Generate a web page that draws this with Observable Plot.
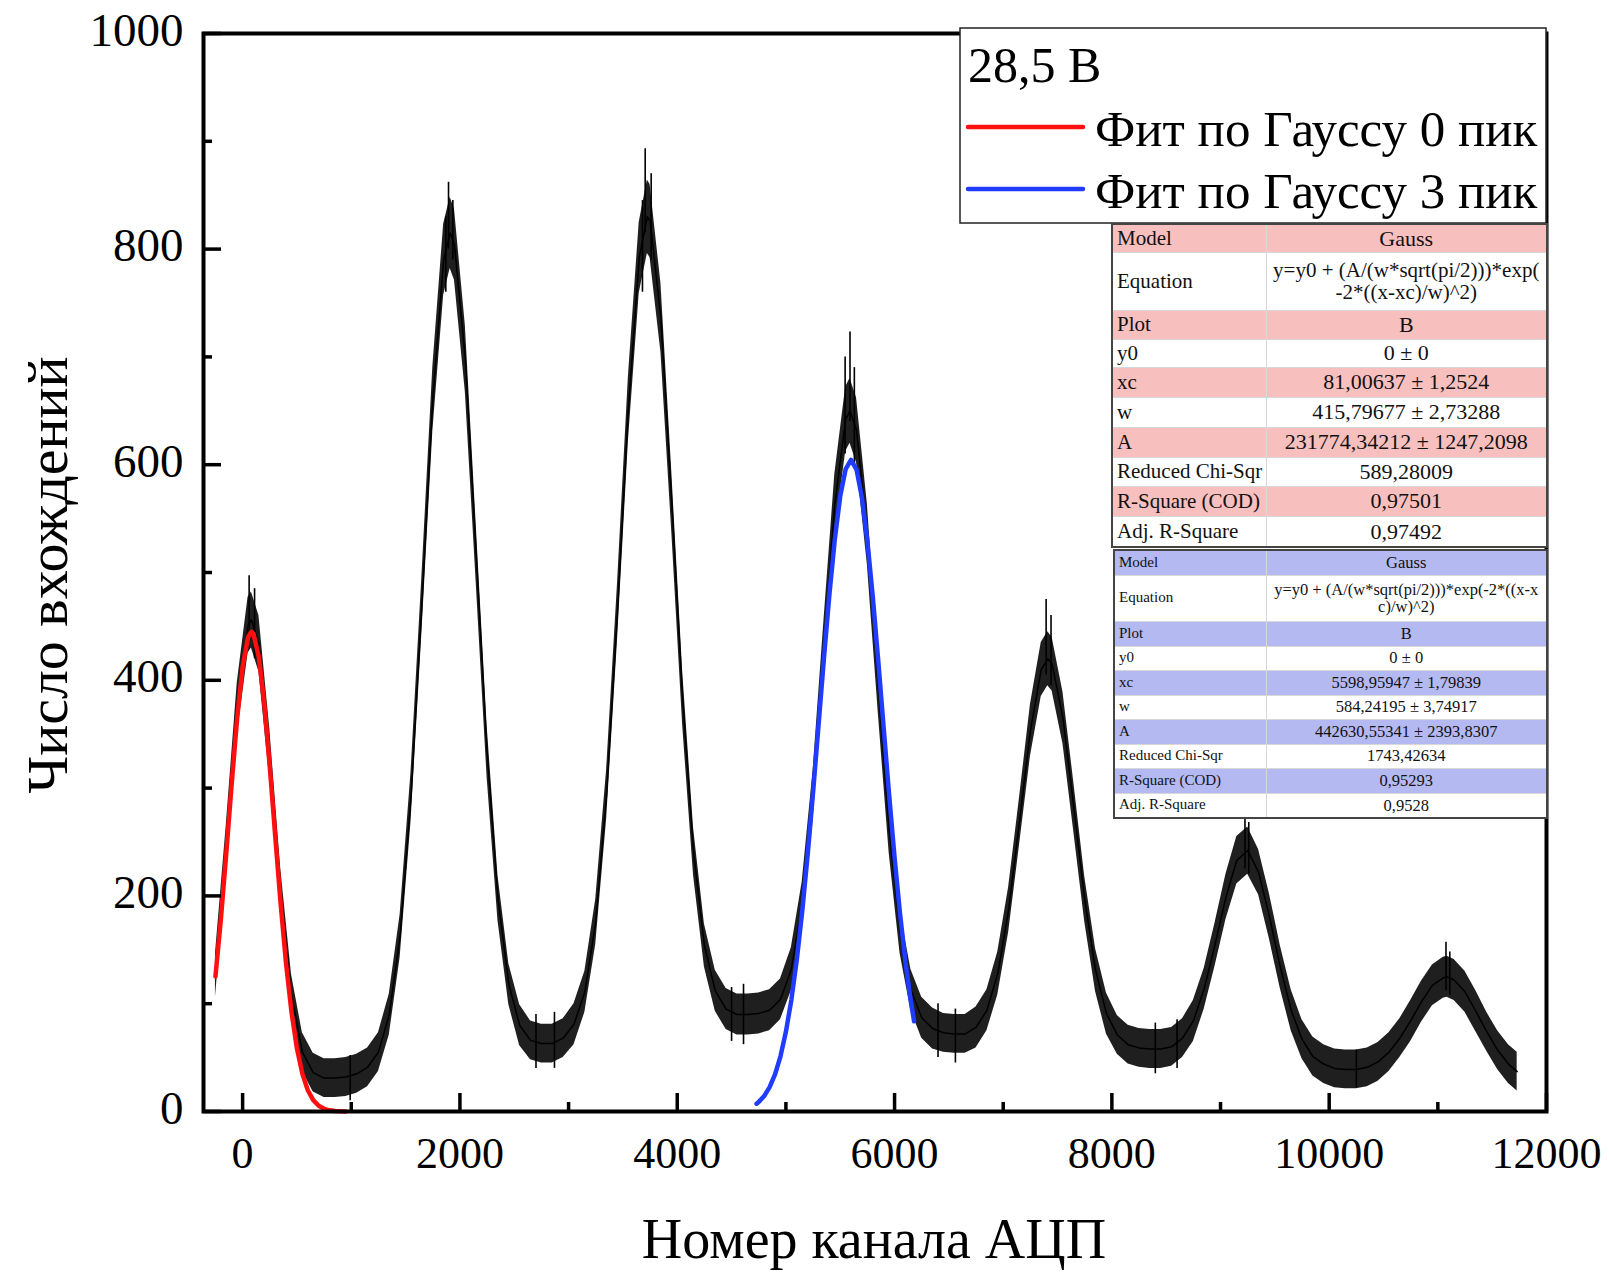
<!DOCTYPE html>
<html>
<head>
<meta charset="utf-8">
<script src="https://cdn.jsdelivr.net/npm/d3@7"></script>
<script src="https://cdn.jsdelivr.net/npm/@observablehq/plot@0.6"></script>
<style>
  html, body { margin: 0; padding: 0; background: #fff; }
  #wrap { position: relative; width: 1609px; height: 1276px; overflow: hidden; font-family: "Liberation Serif", "Times New Roman", serif; }
  #wrap svg { display: block; }
  table.fit { position: absolute; border-collapse: collapse; table-layout: fixed; font-family: "Liberation Serif", "Times New Roman", serif; color: #111; border: 2px solid #444; background: #fff; }
  table.fit td { border: 1px solid #d8d8d8; padding: 0 4px; overflow: hidden; white-space: nowrap; line-height: 1.05; }
  table.fit td.v { text-align: center; padding: 0 2px; }
</style>
</head>
<body>
<div id="wrap"></div>
<script>
// ---------- data ----------
const channels = [-250,-150,-50,50,81,150,250,350,450,550,650,750,850,950,
  1050,1150,1250,1350,1450,1550,1650,1750,1850,1910,1950,2050,2150,2250,2350,2450,2550,2650,2750,2850,
  2950,3050,3150,3250,3350,3450,3550,3650,3725,3750,3850,3950,4050,4150,4250,4350,4450,4550,4650,4750,
  4850,4950,5050,5150,5250,5350,5450,5550,5590,5650,5750,5850,5950,6050,6150,6250,6350,6450,6550,6650,
  6750,6850,6950,7050,7150,7250,7350,7410,7450,7550,7650,7750,7850,7950,8050,8150,8250,8350,8450,
  8550,8650,8750,8850,8950,9050,9150,9250,9350,9450,9550,9650,9750,9850,9950,10050,10150,10250,10350,
  10450,10550,10650,10750,10850,10950,11050,11085,11150,11250,11350,11450,11550,11650,11730];
const counts = [126,244,373,451,456,434,331,205,108,55,36,31,31,32,
  35,41,55,90,163,292,470,660,790,815,804,698,517,334,198,118,80,66,63,63,
  68,81,111,176,294,463,651,792,830,826,736,565,383,241,154,112,95,90,90,91,
  94,104,132,192,293,429,563,642,650,632,535,395,262,167,113,87,77,73,72,72,
  78,94,128,187,269,353,410,420,415,365,282,197,131,91,71,62,59,58,58,
  60,68,84,114,155,199,233,242,222,181,134,94,67,51,44,40,39,39,41,
  46,55,68,84,102,117,124,125,122,111,93,74,57,44,37];
const spread = [20,22,24,26,26,26,24,21,19,18,18,18,18,18,
  18,18,18,19,20,23,26,30,33,33,33,31,27,24,21,19,19,18,18,18,
  18,19,19,21,23,26,30,33,34,34,32,28,25,22,20,19,19,19,19,19,
  19,19,20,21,23,26,28,30,30,30,28,25,22,20,19,19,19,18,18,18,
  19,19,20,21,22,24,25,25,25,24,23,21,20,19,18,18,18,18,18,
  18,18,19,19,20,21,22,22,21,21,20,19,18,18,18,18,18,18,18,
  18,18,18,19,19,19,19,19,19,19,19,18,18,18,18];
// isolated noise spikes: channel, low end, high end
const spikeX    = [60, 110, 1895, 1935, 1870, 3705, 3760, 3680, 5590, 5545, 5630, 7395, 7440, 9225, 9260, 11075, 11110, 2870, 4610, 990, 6560, 8400, 10250, 2700, 4500, 6400, 8600];
const spikeLow  = [440, 420, 800, 790, 760, 815, 790, 760, 640, 610, 600, 405, 395, 225, 220, 112, 108, 40, 62, 10, 45, 35, 22, 40, 65, 50, 40];
const spikeHigh = [497, 485, 862, 845, 830, 893, 870, 845, 723, 700, 690, 475, 460, 280, 268, 157, 148, 92, 118, 52, 95, 82, 57, 90, 115, 100, 85];

// Gauss fit curves
const fit0X = [-250,-200,-150,-100,-50,0,50,81,100,150,200,250,300,350,400,450,500,550,600,650,700,750,800,850,900,950];
const fit0Y = [125.3,178.5,240.0,304.6,364.9,412.5,440.1,445.0,443.1,421.1,377.8,319.8,255.5,192.6,137.1,92.1,58.4,34.9,19.7,10.5,5.3,2.5,1.1,0.5,0.2,0.1];
const fit3X = [4730,4750,4800,4850,4900,4950,5000,5050,5100,5150,5200,5250,5300,5350,5400,5450,5500,5550,5599,5650,5700,5750,5800,5850,5900,5950,6000,6050,6100,6150,6180];
const fit3Y = [7.2,8.9,14.3,22.6,34.5,51.2,73.9,103.4,140.5,185.5,237.8,296.1,358.0,420.4,479.3,530.8,570.8,596.0,604.5,595.4,569.4,528.9,477.0,417.9,355.5,293.7,235.6,183.6,138.9,102.0,83.7];

const xMajorTicks = [0,2000,4000,6000,8000,10000,12000];
const xMinorTicks = [1000,3000,5000,7000,9000,11000];
const yMajorTicks = [0,200,400,600,800,1000];
const yMinorTicks = [100,300,500,700,900];

const xTitle = "Номер канала АЦП";
const yTitle = "Число вхождений";
const legendTitle = "28,5 В";
const legendNames = ["Фит по Гауссу 0 пик", "Фит по Гауссу 3 пик"];
const legendColors = ["#ff1010", "#1f3cff"];

const rowLabels = ["Model","Equation","Plot","y0","xc","w","A","Reduced Chi-Sqr","R-Square (COD)","Adj. R-Square"];
const fit0Values = ["Gauss","y=y0 + (A/(w*sqrt(pi/2)))*exp(\n-2*((x-xc)/w)^2)","B","0 ± 0","81,00637 ± 1,2524","415,79677 ± 2,73288","231774,34212 ± 1247,2098","589,28009","0,97501","0,97492"];
const fit3Values = ["Gauss","y=y0 + (A/(w*sqrt(pi/2)))*exp(-2*((x-x\nc)/w)^2)","B","0 ± 0","5598,95947 ± 1,79839","584,24195 ± 3,74917","442630,55341 ± 2393,8307","1743,42634","0,95293","0,9528"];
const shadedRows = [0,2,4,6,8];

// ---------- chart ----------
const W = 1609, H = 1276;
const mL = 203, mR = 63, mT = 33, mB = 165;
const plotW = W - mL - mR, plotH = H - mT - mB;

const spectrum = channels.map((c, i) => ({ch: c, n: counts[i], lo: counts[i] - spread[i], hi: counts[i] + spread[i]}));
const spikes = spikeX.map((x, i) => ({x, y1: spikeLow[i], y2: spikeHigh[i]}));
const fit0 = fit0X.map((x, i) => ({x, y: fit0Y[i]}));
const fit3 = fit3X.map((x, i) => ({x, y: fit3Y[i]}));

const chart = Plot.plot({
  width: W, height: H,
  marginLeft: mL, marginRight: mR, marginTop: mT, marginBottom: mB,
  style: {fontFamily: "'Liberation Serif', 'Times New Roman', serif", background: "#fff", color: "#000"},
  x: {domain: [-360, 12000]},
  y: {domain: [0, 1000]},
  marks: [
    Plot.areaY(spectrum, {x: "ch", y1: "lo", y2: "hi", fill: "#000", fillOpacity: 0.88}),
    Plot.line(spectrum, {x: "ch", y: "n", stroke: "#000", strokeWidth: 1.5}),
    Plot.ruleX(spikes, {x: "x", y1: "y1", y2: "y2", stroke: "#000", strokeWidth: 1.6}),
    Plot.line(fit0, {x: "x", y: "y", stroke: legendColors[0], strokeWidth: 4.5}),
    Plot.line(fit3, {x: "x", y: "y", stroke: legendColors[1], strokeWidth: 4.5}),
    Plot.ruleX(xMajorTicks, {insetTop: plotH - 18, stroke: "#000", strokeWidth: 3.5}),
    Plot.ruleX(xMinorTicks, {insetTop: plotH - 9, stroke: "#000", strokeWidth: 3.5}),
    Plot.ruleY(yMajorTicks, {insetRight: plotW - 18, stroke: "#000", strokeWidth: 3.5}),
    Plot.ruleY(yMinorTicks, {insetRight: plotW - 9, stroke: "#000", strokeWidth: 3.5}),
    Plot.frame({stroke: "#000", strokeWidth: 4}),
    Plot.axisX({ticks: xMajorTicks, tickSize: 0, tickPadding: 25, fontSize: 44, label: null, tickFormat: d => String(d)}),
    Plot.axisY({ticks: yMajorTicks, tickSize: 0, tickPadding: 20, dy: -3, fontSize: 47, label: null, tickFormat: d => String(d)})
  ]
});
document.getElementById("wrap").appendChild(chart);

// axis titles and legend (SVG text)
const svg = d3.select(chart);
const serif = "'Liberation Serif', 'Times New Roman', serif";
svg.append("text").attr("x", 874).attr("y", 1258).attr("text-anchor", "middle")
  .attr("font-family", serif).attr("font-size", 56).attr("fill", "#000").text(xTitle);
svg.append("text").attr("transform", "translate(67,575) rotate(-90)").attr("text-anchor", "middle")
  .attr("font-family", serif).attr("font-size", 58).attr("fill", "#000").text(yTitle);

const lg = svg.append("g").attr("text-anchor", "start");
lg.append("rect").attr("x", 960).attr("y", 28).attr("width", 586).attr("height", 195)
  .attr("fill", "#fff").attr("stroke", "#222").attr("stroke-width", 1.5);
lg.append("text").attr("x", 968).attr("y", 82).attr("text-anchor", "start").attr("font-family", serif).attr("font-size", 50).attr("fill", "#000").text(legendTitle);
const rowY = [127, 189], textY = [146, 208];
legendNames.forEach((name, i) => {
  lg.append("line").attr("x1", 968).attr("x2", 1083).attr("y1", rowY[i]).attr("y2", rowY[i])
    .attr("stroke", legendColors[i]).attr("stroke-width", 4.5).attr("stroke-linecap", "round");
  lg.append("text").attr("x", 1095).attr("y", textY[i]).attr("text-anchor", "start").attr("font-family", serif).attr("font-size", 51).attr("fill", "#000").text(name);
});

// fit result tables (HTML)
function makeTable(values, opts) {
  const t = document.createElement("table");
  t.className = "fit";
  Object.assign(t.style, {left: opts.left + "px", top: opts.top + "px", width: opts.width + "px", fontSize: opts.labelSize + "px"});
  const cg = document.createElement("colgroup");
  [opts.col1, opts.width - opts.col1].forEach(w => { const c = document.createElement("col"); c.style.width = w + "px"; cg.appendChild(c); });
  t.appendChild(cg);
  rowLabels.forEach((lab, i) => {
    const tr = document.createElement("tr");
    tr.style.height = opts.rows[i] + "px";
    if (shadedRows.includes(i)) tr.style.background = opts.shade;
    const a = document.createElement("td"); a.textContent = lab;
    const b = document.createElement("td"); b.className = "v";
    b.style.fontSize = (i === 1 ? opts.eqSize : opts.valueSize) + "px";
    values[i].split("\n").forEach((part, k) => { if (k) b.appendChild(document.createElement("br")); b.appendChild(document.createTextNode(part)); });
    tr.appendChild(a); tr.appendChild(b); t.appendChild(tr);
  });
  document.getElementById("wrap").appendChild(t);
}
makeTable(fit0Values, {left: 1111, top: 223, width: 435, col1: 154, labelSize: 21, valueSize: 22, eqSize: 21, shade: "#f8bfbf",
  rows: [28,58,29,28,30,30,30,29,30,31]});
makeTable(fit3Values, {left: 1113, top: 549, width: 433, col1: 152, labelSize: 15, valueSize: 16.5, eqSize: 16.5, shade: "#b4b9f1",
  rows: [25,46,25,24,25,24,25,24,25,25]});
</script>
</body>
</html>
